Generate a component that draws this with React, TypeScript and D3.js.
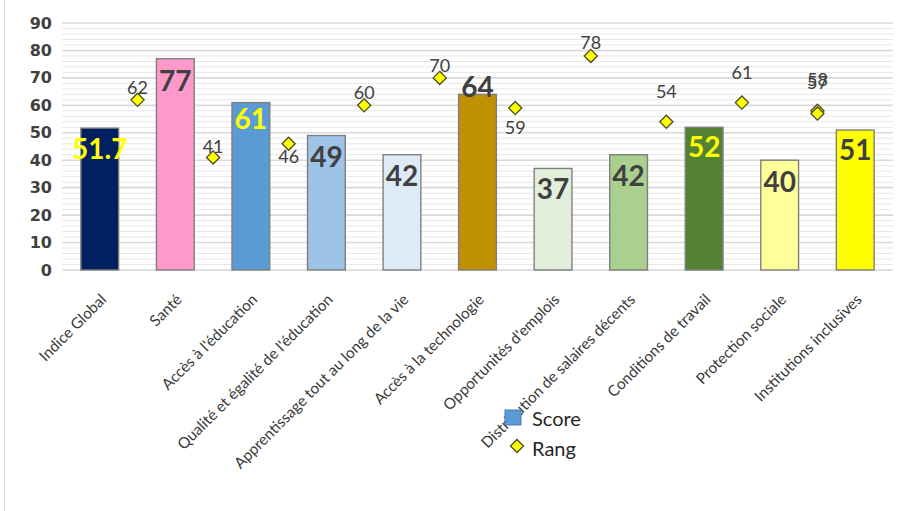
import React from "react";
import * as d3 from "d3";

// Pillar names, scores and ranks
const categories = [
  "Indice Global",
  "Santé",
  "Accès à l'éducation",
  "Qualité et égalité de l'éducation",
  "Apprentissage tout au long de la vie",
  "Accès à la technologie",
  "Opportunités d'emplois",
  "Distribution de salaires décents",
  "Conditions de travail",
  "Protection sociale",
  "Institutions inclusives",
];
const scores = [51.7, 77, 61, 49, 42, 64, 37, 42, 52, 40, 51];
const ranks = [62, 41, 46, 60, 70, 59, 78, 54, 61, 58, 57];
const yTicks = [0, 10, 20, 30, 40, 50, 60, 70, 80, 90];

// Styling per bar
const barColors = [
  "#002060", "#FF99CC", "#5B9BD5", "#9DC3E6", "#DEEBF7", "#BF9000",
  "#E2EFDA", "#A9D08E", "#548235", "#FFFF99", "#FFFF00",
];
const barLabelColors = [
  "#FFFF00", "#404040", "#FFFF00", "#404040", "#404040", "#404040",
  "#404040", "#404040", "#FFFF00", "#404040", "#404040",
];
// Vertical offset of each score label from the bar top
const barLabelDy = [20, 21, 15, 20, 20, -8, 20, 20, 19, 21, 19];
// Vertical offset of each rank label from its marker
const rankLabelDy = [-13, -11, 12, -13, -13, 19, -14, -31, -31, -32, -32];

const W = 904;
const H = 511;
const plotLeft = 62;
const plotRight = 893;
const plotTop = 23;
const plotBottom = 270;

export default function App() {
  const x = d3
    .scaleBand<string>()
    .domain(categories)
    .range([plotLeft, plotRight])
    .paddingInner(0.5)
    .paddingOuter(0.25);
  const y = d3.scaleLinear().domain([0, 90]).range([plotBottom, plotTop]);
  const step = x.step();
  const bw = x.bandwidth();
  const minorTicks = d3.range(0, 91, 2).filter((v) => v % 10 !== 0);

  // rank markers sit on the boundaries between categories
  const rankX = (i: number) => {
    const slot = Math.min(i, categories.length - 2);
    return x(categories[slot])! - step * 0.25 + step;
  };

  const diamond = d3.symbol().type(d3.symbolDiamond2).size(110);

  return (
    <svg
      width={W}
      height={H}
      style={{ position: "absolute", left: 0, top: 0, background: "#fff" }}
      fontFamily="Lato, 'Open Sans', sans-serif"
    >
      <line x1={4.5} x2={4.5} y1={0} y2={H} stroke="#d9d9d9" strokeWidth={1} />

      {/* gridlines */}
      {minorTicks.map((t) => (
        <line
          key={"m" + t}
          x1={plotLeft}
          x2={plotRight}
          y1={y(t)}
          y2={y(t)}
          stroke="#e8e8e8"
          strokeWidth={1}
        />
      ))}
      {yTicks.map((t) => (
        <line
          key={"g" + t}
          x1={plotLeft}
          x2={plotRight}
          y1={y(t)}
          y2={y(t)}
          stroke="#d9d9d9"
          strokeWidth={1.6}
        />
      ))}

      {/* y axis labels */}
      {yTicks.map((t) => (
        <text
          key={"y" + t}
          x={52}
          y={y(t)}
          textAnchor="end"
          dominantBaseline="central"
          fontFamily="'DejaVu Sans', sans-serif"
          fontWeight="bold"
          fontSize={16}
          fill="#404040"
        >
          {t}
        </text>
      ))}

      {/* score bars */}
      {categories.map((c, i) => (
        <rect
          key={"b" + c}
          x={x(c)}
          y={y(scores[i])}
          width={bw}
          height={y(0) - y(scores[i])}
          fill={barColors[i]}
          stroke="#7f7f7f"
          strokeWidth={1.4}
        />
      ))}

      {/* score labels */}
      {categories.map((c, i) => (
        <text
          key={"bl" + c}
          x={x(c)! + bw / 2}
          y={y(scores[i]) + barLabelDy[i]}
          textAnchor="middle"
          dominantBaseline="central"
          fontWeight="bold"
          fontSize={28}
          fill={barLabelColors[i]}
        >
          {scores[i]}
        </text>
      ))}

      {/* rank markers */}
      {ranks.map((r, i) => (
        <path
          key={"r" + i}
          d={diamond()!}
          transform={`translate(${rankX(i)},${y(r)})`}
          fill="#FFFF00"
          stroke="#4a4a2a"
          strokeWidth={1.3}
        />
      ))}
      {ranks.map((r, i) => (
        <text
          key={"rl" + i}
          x={rankX(i)}
          y={y(r) + rankLabelDy[i]}
          textAnchor="middle"
          dominantBaseline="central"
          fontSize={18}
          fill="#404040"
        >
          {r}
        </text>
      ))}

      {/* category labels */}
      {categories.map((c) => {
        const cx = x(c)! + bw / 2 - 1;
        const cy = 292;
        return (
          <text
            key={"x" + c}
            x={cx}
            y={cy}
            transform={`rotate(-45,${cx},${cy})`}
            textAnchor="end"
            dominantBaseline="hanging"
            fontSize={15.3}
            fill="#3a3a3a"
          >
            {c}
          </text>
        );
      })}

      {/* legend */}
      <rect x={505} y={410} width={16} height={15} fill="#5B9BD5" stroke="#4a7db0" strokeWidth={1} />
      <text x={532} y={418} dominantBaseline="central" fontSize={20} fill="#262626">
        Score
      </text>
      <path
        d={diamond()!}
        transform="translate(517,446)"
        fill="#FFFF00"
        stroke="#4a4a2a"
        strokeWidth={1.3}
      />
      <text x={532} y={448} dominantBaseline="central" fontSize={20} fill="#262626">
        Rang
      </text>
    </svg>
  );
}
